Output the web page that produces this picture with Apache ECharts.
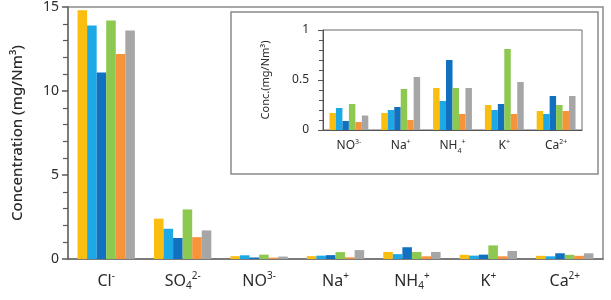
<!DOCTYPE html>
<html>
<head>
<meta charset="utf-8">
<script src="https://cdn.jsdelivr.net/npm/echarts@6/dist/echarts.min.js"></script>
<style>
  html, body { margin: 0; padding: 0; background: #fff; }
  #main { width: 611px; height: 300px; }
</style>
</head>
<body>
<div id="main"></div>
<script>
// categories (ions) and six measured series
const categories = ["Cl⁻", "SO₄²⁻", "NO³⁻", "Na⁺", "NH₄⁺", "K⁺", "Ca²⁺"];
const insetCategories = categories.slice(2);

const seriesNames = ["Series 1", "Series 2", "Series 3", "Series 4", "Series 5", "Series 6"];
const yellowVals = [14.8, 2.4, 0.17, 0.17, 0.42, 0.25, 0.19];
const lightBlueVals = [13.9, 1.8, 0.22, 0.2, 0.29, 0.2, 0.16];
const blueVals = [11.1, 1.25, 0.09, 0.23, 0.7, 0.26, 0.34];
const greenVals = [14.2, 2.95, 0.26, 0.41, 0.42, 0.81, 0.25];
const orangeVals = [12.2, 1.3, 0.08, 0.1, 0.16, 0.16, 0.19];
const grayVals = [13.6, 1.7, 0.145, 0.53, 0.42, 0.48, 0.34];

const mainTicks = [0, 5, 10, 15];
const insetTicks = [0, 0.5, 1];

const allVals = [yellowVals, lightBlueVals, blueVals, greenVals, orangeVals, grayVals];
const colors = ["#FABE10", "#1DA8E6", "#1170C0", "#8DC850", "#F7933B", "#A6A6A6"];

const FONT = "Noto Sans";
const TXT = "#2a2a2a";
const AXIS = "#6e6e6e";

// turn unicode super/subscripts into rich text pieces
const supMap = { "⁻": "-", "⁺": "+", "²": "2", "³": "3" };
const subMap = { "₄": "4" };
const toRich = (s) => {
  let out = "";
  let cur = null, buf = "";
  const flush = () => { if (buf) out += "{" + cur + "|" + buf + "}"; buf = ""; };
  for (const ch of s) {
    let kind = "n", c = ch;
    if (supMap[ch]) { kind = "sup"; c = supMap[ch]; }
    else if (subMap[ch]) { kind = "sub"; c = subMap[ch]; }
    if (kind !== cur) { flush(); cur = kind; }
    buf += c;
  }
  flush();
  return out;
};

const richStyles = (size) => ({
  n: { fontSize: size, lineHeight: size + 4, color: TXT, fontFamily: FONT },
  sup: { fontSize: Math.round(size * 0.62), lineHeight: Math.round(size * 0.7), verticalAlign: "top", color: TXT, fontFamily: FONT },
  sub: { fontSize: Math.round(size * 0.62), lineHeight: Math.round(size * 0.75), verticalAlign: "bottom", color: TXT, fontFamily: FONT },
});

const chart = echarts.init(document.getElementById("main"));

const series = [];
allVals.forEach((vals, i) => {
  series.push({
    name: seriesNames[i],
    type: "bar",
    xAxisIndex: 0,
    yAxisIndex: 0,
    data: vals,
    itemStyle: { color: colors[i] },
    barGap: "0%",
    barCategoryGap: "25%",
  });
  series.push({
    name: seriesNames[i],
    type: "bar",
    xAxisIndex: 1,
    yAxisIndex: 1,
    data: vals.slice(2),
    itemStyle: { color: colors[i] },
    barGap: "0%",
    barCategoryGap: "25%",
  });
});

const option = {
  animation: false,
  textStyle: { fontFamily: FONT },
  // frames: outer plot box, inset box, inset plot box
  graphic: [
    {
      type: "rect",
      z: 0,
      silent: true,
      shape: { x: 68, y: 7, width: 535, height: 252 },
      style: { fill: "none", stroke: "#8a8a8a", lineWidth: 1.5 },
    },
    {
      type: "rect",
      z: 0,
      silent: true,
      shape: { x: 231, y: 12, width: 367, height: 162 },
      style: { fill: "none", stroke: "#8a8a8a", lineWidth: 1.5 },
    },
    {
      type: "rect",
      z: 0,
      silent: true,
      shape: { x: 323, y: 30, width: 259, height: 100 },
      style: { fill: "none", stroke: "#6a6a6a", lineWidth: 1 },
    },
  ],
  grid: [
    { left: 68, right: 8, top: 7, bottom: 41 },
    { left: 323, right: 29, top: 30, bottom: 170 },
  ],
  xAxis: [
    {
      gridIndex: 0,
      type: "category",
      data: categories,
      axisLine: { lineStyle: { color: AXIS, width: 1.5 } },
      axisTick: { show: true, length: 0 },
      axisLabel: {
        interval: 0,
        margin: 12,
        formatter: (v) => toRich(v),
        rich: richStyles(16),
      },
    },
    {
      gridIndex: 1,
      type: "category",
      data: insetCategories,
      axisLine: { lineStyle: { color: "#555", width: 1 } },
      axisTick: { show: true, length: 0 },
      axisLabel: {
        interval: 0,
        margin: 8,
        formatter: (v) => toRich(v),
        rich: richStyles(12),
      },
    },
  ],
  yAxis: [
    {
      gridIndex: 0,
      type: "value",
      min: mainTicks[0],
      max: mainTicks[mainTicks.length - 1],
      interval: 5,
      name: "Concentration (mg/Nm³)",
      nameLocation: "middle",
      nameGap: 43,
      nameTextStyle: { fontSize: 15, color: TXT, fontFamily: FONT, fontWeight: 500 },
      axisLine: { show: true, lineStyle: { color: AXIS, width: 1.5 } },
      axisTick: { show: true, length: 6, lineStyle: { color: "#5a5a5a", width: 1.5 } },
      minorTick: { show: true, splitNumber: 5, length: 5, lineStyle: { color: "#5a5a5a", width: 1.2 } },
      splitLine: { show: true, lineStyle: { color: "rgba(0,0,0,0)" } },
      axisLabel: { fontSize: 14, color: TXT, margin: 9 },
    },
    {
      gridIndex: 1,
      type: "value",
      min: insetTicks[0],
      max: insetTicks[insetTicks.length - 1],
      interval: 0.5,
      name: "Conc.(mg/Nm³)",
      nameLocation: "middle",
      nameGap: 52,
      nameTextStyle: { fontSize: 11, color: TXT, fontFamily: FONT },
      axisLine: { show: true, lineStyle: { color: "#555", width: 1 } },
      axisTick: { show: true, length: 5, lineStyle: { color: "#555", width: 1 } },
      minorTick: { show: true, splitNumber: 5, length: 4, lineStyle: { color: "#555", width: 1 } },
      splitLine: { show: true, lineStyle: { color: "rgba(0,0,0,0)" } },
      axisLabel: { fontSize: 12, color: TXT, margin: 14 },
    },
  ],
  series: series,
};

chart.setOption(option);
</script>
</body>
</html>
